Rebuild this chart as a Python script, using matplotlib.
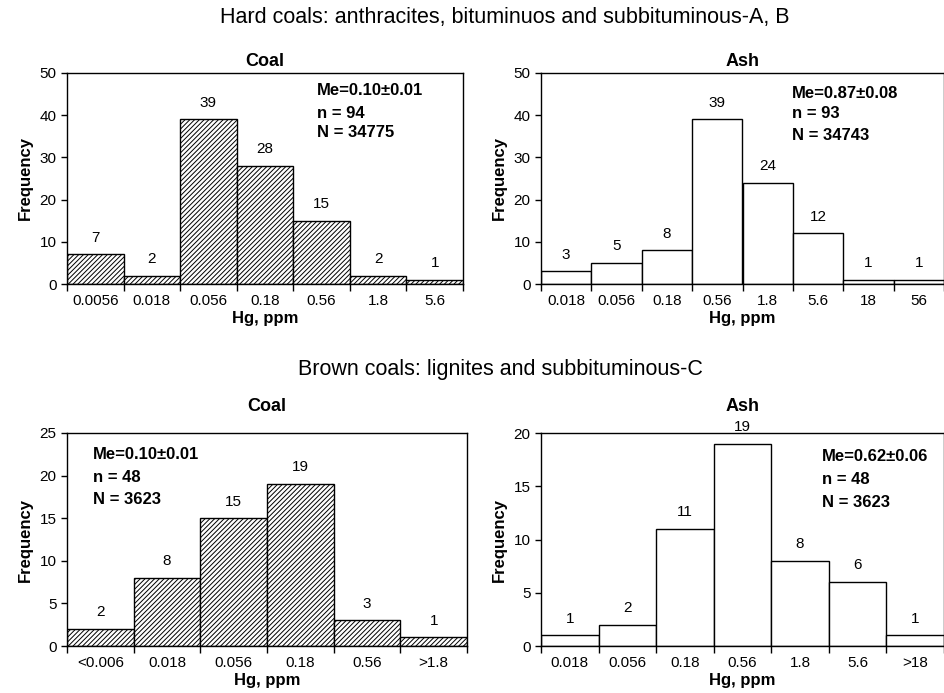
import matplotlib.pyplot as plt

plt.rcParams['font.family'] = ['Liberation Sans', 'DejaVu Sans']
plt.rcParams['hatch.linewidth'] = 0.7

# hard coals
hard_coal_labels = ['0.0056', '0.018', '0.056', '0.18', '0.56', '1.8', '5.6']
hard_coal_freq = [7, 2, 39, 28, 15, 2, 1]
hard_ash_labels = ['0.018', '0.056', '0.18', '0.56', '1.8', '5.6', '18', '56']
hard_ash_freq = [3, 5, 8, 39, 24, 12, 1, 1]

# brown coals
brown_coal_labels = ['<0.006', '0.018', '0.056', '0.18', '0.56', '>1.8']
brown_coal_freq = [2, 8, 15, 19, 3, 1]
brown_ash_labels = ['0.018', '0.056', '0.18', '0.56', '1.8', '5.6', '>18']
brown_ash_freq = [1, 2, 11, 19, 8, 6, 1]

W, H = 945, 693
fig = plt.figure(figsize=(W / 100, H / 100), dpi=100)


def px_axes(x0, y0, x1, y1):
    return fig.add_axes([x0 / W, 1 - y1 / H, (x1 - x0) / W, (y1 - y0) / H])


def hist_panel(ax, labels, freq, ymax, ystep, title, title_pad,
               stats, sx, sy, hatch):
    n = len(freq)
    pos = list(range(n))
    ax.bar(pos, freq, width=1.0, color='white', edgecolor='black',
           linewidth=1.0, hatch=hatch)
    for p, v in zip(pos, freq):
        ax.annotate(str(v), (p, v), xytext=(0, 12), textcoords='offset points',
                    ha='center', va='center', fontsize=11)
    ax.set_xlim(-0.5, n - 0.5)
    ax.set_ylim(0, ymax)
    ax.set_yticks(range(0, ymax + 1, ystep))
    ax.set_xticks(pos)
    ax.set_xticklabels(labels, fontsize=11)
    ax.set_xticks([p - 0.5 for p in range(n + 1)], minor=True)
    ax.tick_params(axis='x', which='major', length=0, pad=7)
    ax.tick_params(axis='x', which='minor', length=5, width=1)
    ax.tick_params(axis='y', length=4, width=1, labelsize=11)
    for s in ax.spines.values():
        s.set_linewidth(1.0)
    ax.set_title(title, fontsize=13, fontweight='bold', pad=title_pad)
    ax.set_ylabel('Frequency', fontsize=12, fontweight='bold', labelpad=5)
    ax.set_xlabel('Hg, ppm', fontsize=12, fontweight='bold', labelpad=2)
    for line, y in zip(stats, sy):
        ax.text(sx, y, line, transform=ax.transAxes, ha='left', va='center',
                fontsize=12, fontweight='bold')


ax1 = px_axes(67, 73, 463, 284)
hist_panel(ax1, hard_coal_labels, hard_coal_freq, 50, 10, 'Coal', 5,
           ['Me=0.10±0.01', 'n = 94', 'N = 34775'], 0.631,
           [0.915, 0.810, 0.716], '///////')

ax2 = px_axes(541, 73, 944, 284)
hist_panel(ax2, hard_ash_labels, hard_ash_freq, 50, 10, 'Ash', 5,
           ['Me=0.87±0.08', 'n = 93', 'N = 34743'], 0.623,
           [0.905, 0.806, 0.706], None)

ax3 = px_axes(67, 433, 467, 646)
hist_panel(ax3, brown_coal_labels, brown_coal_freq, 25, 5, 'Coal', 16,
           ['Me=0.10±0.01', 'n = 48', 'N = 3623'], 0.065,
           [0.901, 0.793, 0.690], '///////')

ax4 = px_axes(541, 433, 944, 646)
hist_panel(ax4, brown_ash_labels, brown_ash_freq, 20, 5, 'Ash', 16,
           ['Me=0.62±0.06', 'n = 48', 'N = 3623'], 0.697,
           [0.892, 0.784, 0.676], None)

fig.text(505 / W, 1 - 18 / H,
         'Hard coals: anthracites, bituminuos and subbituminous-A, B',
         ha='center', va='center', fontsize=15.5)
fig.text(500 / W, 1 - 370 / H, 'Brown coals: lignites and subbituminous-C',
         ha='center', va='center', fontsize=15.5)

fig.savefig('out.png', dpi=100)
